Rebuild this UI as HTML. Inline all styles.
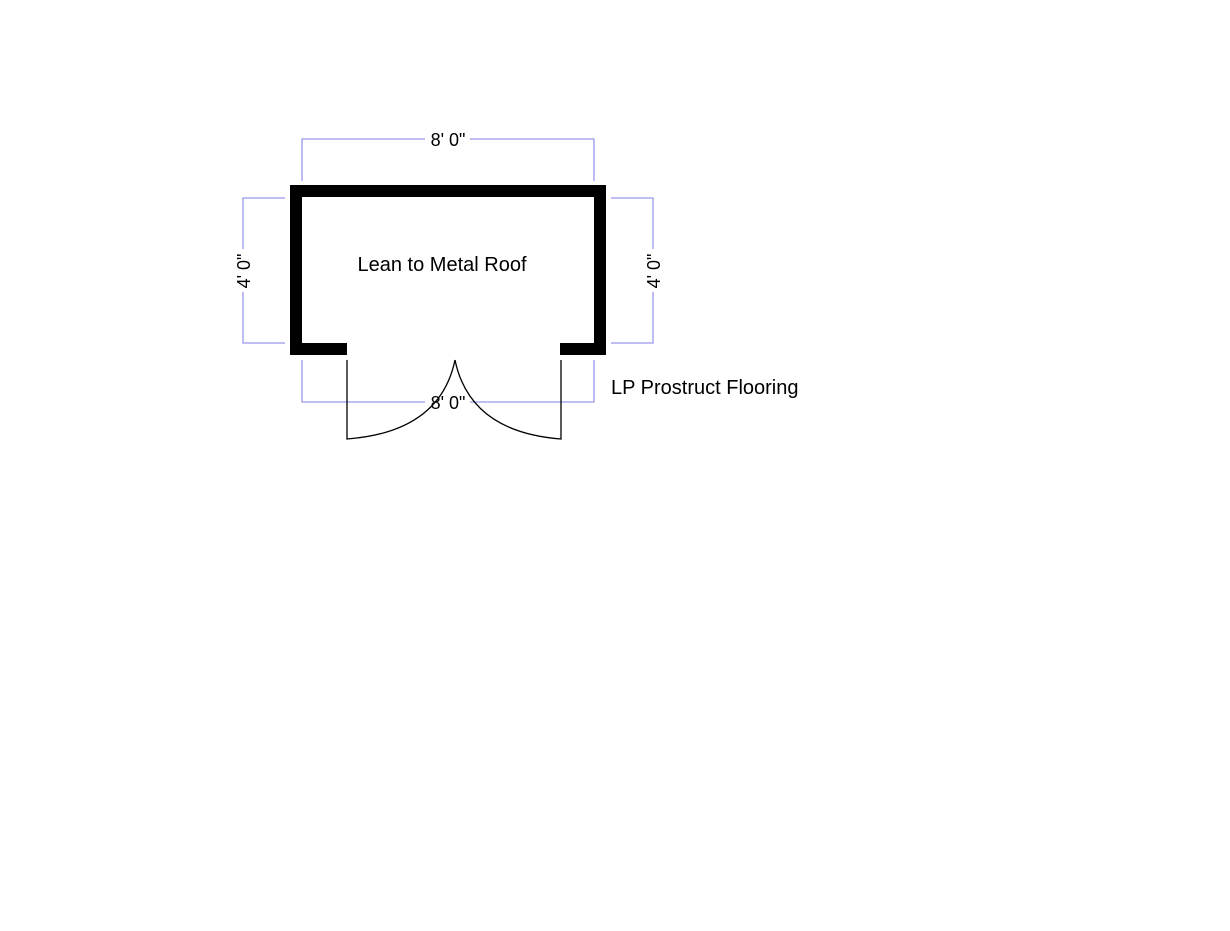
<!DOCTYPE html>
<html><head><meta charset="utf-8"><style>
html,body{margin:0;padding:0;background:#fff;}
svg{display:block;}
text{font-family:"Liberation Sans",Arial,sans-serif;fill:#000;}
</style></head><body>
<svg width="1230" height="931" viewBox="0 0 1230 931" xmlns="http://www.w3.org/2000/svg">
<g stroke="#9999ee" stroke-width="1.3" fill="none">
<path d="M302 181V139H425M470 139H594V181"/>
<path d="M285 198H243V249M243 292V343H285"/>
<path d="M611 198H653V249M653 292V343H611"/>
<path d="M302 360V402H425M470 402H594V360"/>
</g>
<g fill="#000">
<rect x="290" y="185" width="316" height="12"/>
<rect x="290" y="185" width="12" height="170"/>
<rect x="594" y="185" width="12" height="170"/>
<rect x="290" y="343" width="57" height="12"/>
<rect x="560" y="343" width="46" height="12"/>
</g>
<g stroke="#000" stroke-width="1.3" fill="none">
<path d="M347 360V439Q440 432 455 360"/>
<path d="M561 360V439Q470 432 455 360"/>
</g>
<text x="448" y="146" font-size="18" text-anchor="middle">8' 0"</text>
<text x="448" y="409" font-size="18" text-anchor="middle">8' 0"</text>
<text x="442" y="271" font-size="20" text-anchor="middle">Lean to Metal Roof</text>
<text x="611" y="394" font-size="20">LP Prostruct Flooring</text>
<text transform="translate(250,271) rotate(-90)" font-size="18" text-anchor="middle">4' 0"</text>
<text transform="translate(660,271) rotate(-90)" font-size="18" text-anchor="middle">4' 0"</text>
</svg>
</body></html>
